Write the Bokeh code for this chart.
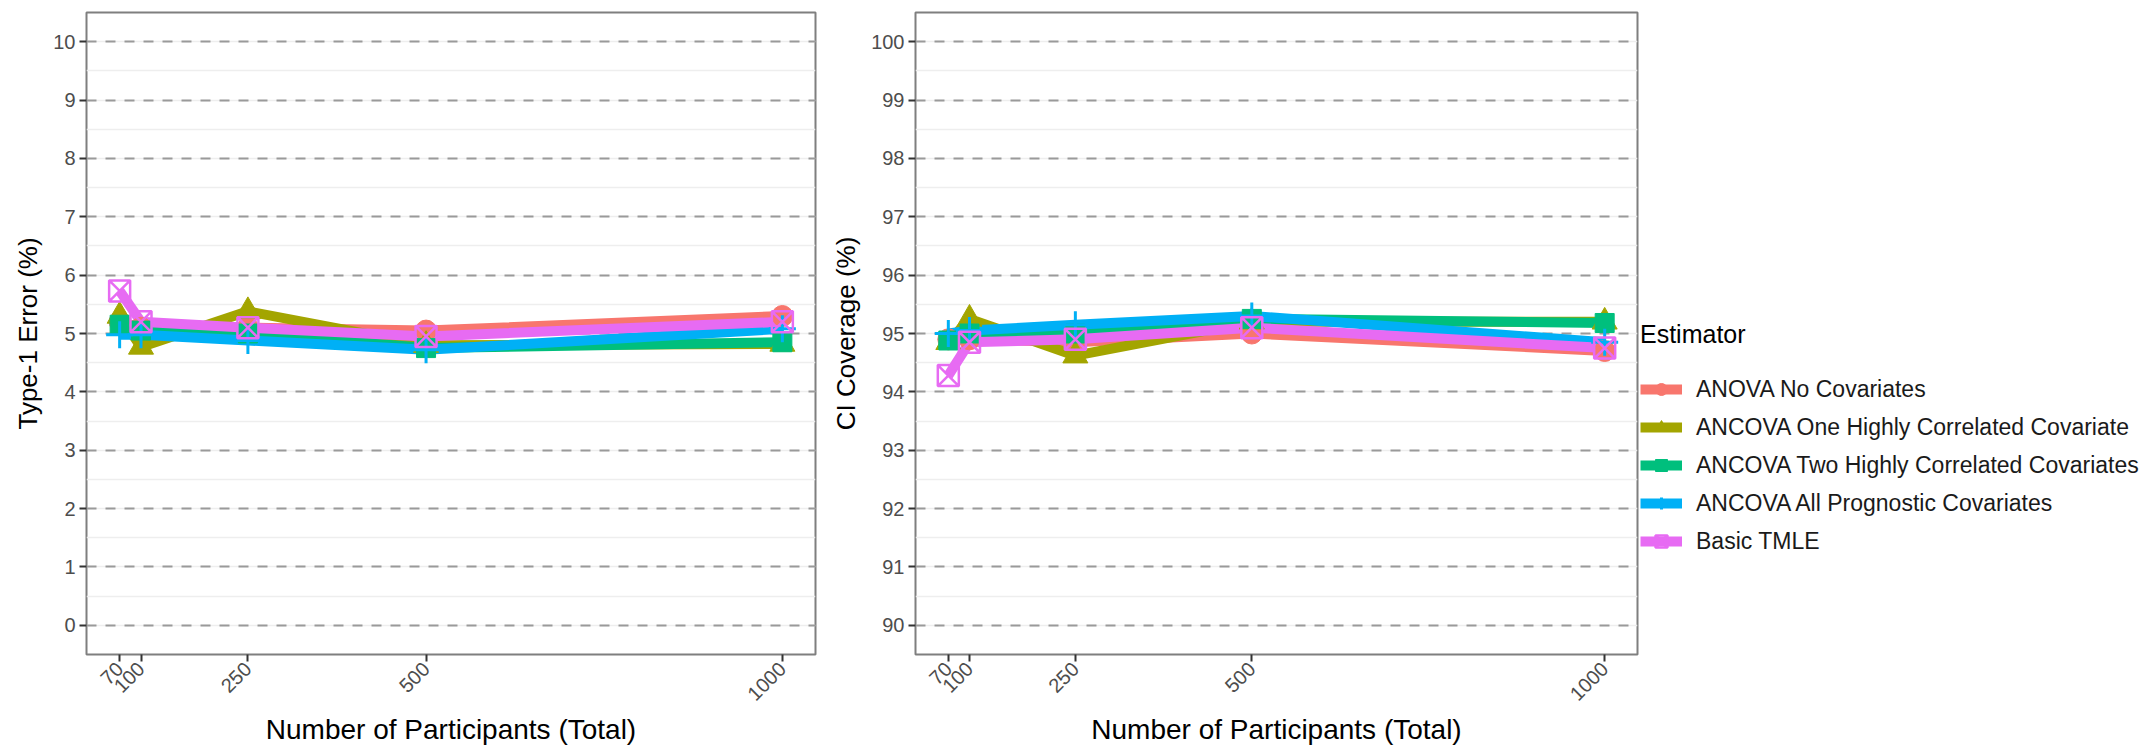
from math import pi
from bokeh.plotting import figure
from bokeh.models import (FixedTicker, Legend, LegendItem, SingleIntervalTicker,
                          ColumnDataSource, Range1d)
from bokeh.layouts import row
from bokeh.embed import file_html
from bokeh.resources import INLINE

# ---------------- data ----------------
participants = [70, 100, 250, 500, 1000]
estimators = [
    "ANOVA No Covariates",
    "ANCOVA One Highly Correlated Covariate",
    "ANCOVA Two Highly Correlated Covariates",
    "ANCOVA All Prognostic Covariates",
    "Basic TMLE",
]

# Type-1 error (%)
t1_anova = [5.20, 5.10, 5.10, 5.05, 5.30]
t1_one = [5.30, 4.77, 5.38, 4.80, 4.82]
t1_two = [5.15, 5.05, 5.00, 4.75, 4.85]
t1_all = [4.98, 4.98, 4.88, 4.72, 5.08]
t1_tmle = [5.73, 5.20, 5.10, 4.95, 5.20]

# CI coverage (%)
ci_anova = [94.90, 94.90, 94.85, 95.00, 94.70]
ci_one = [94.85, 95.25, 94.62, 95.20, 95.20]
ci_two = [94.88, 95.00, 95.00, 95.25, 95.18]
ci_all = [95.00, 95.05, 95.15, 95.30, 94.85]
ci_tmle = [94.28, 94.85, 94.90, 95.10, 94.75]

colors = ["#F8766D", "#A3A500", "#00BF7D", "#00B0F6", "#E76BF3"]
markers = ["circle", "triangle", "square", "cross", "square_x"]
msizes = [21, 25, 19, 27, 21]

FONT = "Liberation Sans"


def make_panel(series, ylab, ylo, yhi, fw, border_left, border_right):
    p = figure(output_backend="svg", toolbar_location=None,
               frame_width=fw, frame_height=642,
               x_range=Range1d(23.5, 1046.5), y_range=Range1d(ylo - 0.5, yhi + 0.5),
               min_border_left=border_left, min_border_right=border_right,
               min_border_top=12, min_border_bottom=40)
    p.background_fill_color = "white"
    p.border_fill_color = "white"
    p.outline_line_color = "#7F7F7F"
    p.outline_line_width = 2

    p.xgrid.grid_line_color = None
    p.ygrid.grid_line_color = "#9A9A9A"
    p.ygrid.grid_line_width = 2
    p.ygrid.grid_line_dash = "10 9"
    p.ygrid.minor_grid_line_color = "#EEEEEE"
    p.ygrid.minor_grid_line_width = 1.5

    p.yaxis.ticker = SingleIntervalTicker(interval=1, num_minor_ticks=2)
    p.xaxis.ticker = FixedTicker(ticks=participants)
    p.xaxis.major_label_orientation = pi / 4

    for ax in (p.xaxis[0], p.yaxis[0]):
        ax.axis_line_color = None
        ax.major_tick_out = 7
        ax.major_tick_in = 0
        ax.minor_tick_out = 0
        ax.minor_tick_in = 0
        ax.major_tick_line_color = "#333333"
        ax.major_tick_line_width = 2
        ax.major_label_text_font = FONT
        ax.major_label_text_font_size = "20px"
        ax.major_label_text_color = "#4D4D4D"
        ax.axis_label_text_font = FONT
        ax.axis_label_text_font_style = "normal"
        ax.axis_label_text_color = "#000000"
        ax.major_label_standoff = 4
    p.xaxis.axis_label_text_font_size = "28px"
    p.xaxis.axis_label_standoff = 4
    p.yaxis.axis_label_text_font_size = "26px"
    p.yaxis.axis_label_standoff = 7

    p.xaxis.axis_label = "Number of Participants (Total)"
    p.yaxis.axis_label = ylab

    line_r = []
    pt_r = []
    for vals, c in zip(series, colors):
        src = ColumnDataSource(dict(x=participants, y=vals))
        line_r.append(p.line("x", "y", source=src, line_color=c, line_width=10))
    for vals, c, m, s in zip(series, colors, markers, msizes):
        src = ColumnDataSource(dict(x=participants, y=vals))
        if m == "cross":
            r = p.scatter("x", "y", source=src, marker=m, size=s, line_color=c, line_width=3)
        elif m == "square_x":
            r = p.scatter("x", "y", source=src, marker=m, size=s, line_color=c,
                          fill_alpha=0, line_width=2.5)
        else:
            r = p.scatter("x", "y", source=src, marker=m, size=s, color=c)
        pt_r.append(r)
    return p, line_r, pt_r


p1, _, _ = make_panel([t1_anova, t1_one, t1_two, t1_all, t1_tmle],
                      "Type-1 Error (%)", 0, 10, 729, 86, 7)
p2, lr, pr = make_panel([ci_anova, ci_one, ci_two, ci_all, ci_tmle],
                        "CI Coverage (%)", 90, 100, 722, 93, 0)

items = [LegendItem(label=lab, renderers=[l, s]) for lab, l, s in zip(estimators, lr, pr)]
legend = Legend(items=items, location=(3, 98))
legend.title = "Estimator"
legend.title_text_font = FONT
legend.title_text_font_size = "25px"
legend.title_text_font_style = "normal"
legend.title_text_color = "#000000"
legend.title_standoff = 25
legend.label_text_font = FONT
legend.label_text_font_size = "23px"
legend.label_text_color = "#1A1A1A"
legend.glyph_width = 42
legend.glyph_height = 30
legend.label_height = 30
legend.spacing = 8
legend.label_standoff = 14
legend.margin = 0
legend.padding = 4
legend.border_line_color = None
legend.background_fill_alpha = 0
p2.add_layout(legend, "right")

layout = row(p1, p2)
open("out.html", "w").write(file_html(layout, INLINE))
